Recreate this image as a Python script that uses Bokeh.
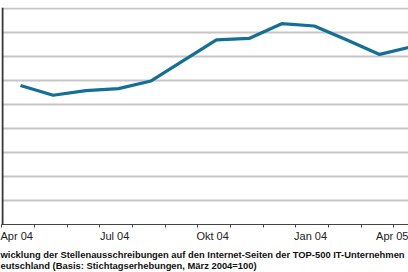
from bokeh.plotting import figure
from bokeh.models import FixedTicker, Span, Range1d, Title
from bokeh.embed import file_html
from bokeh.resources import INLINE

# Data (index, März 2004 = 100)
months = ["Apr 04", "Mai 04", "Jun 04", "Jul 04", "Aug 04", "Sep 04", "Okt 04",
          "Nov 04", "Dez 04", "Jan 05", "Feb 05", "Mär 05", "Apr 05"]
values = [115.8, 107.7, 111.5, 113.2, 119.6, 136.7, 153.8, 155.0, 167.3, 165.4,
          153.8, 141.7, 148.3]
tick_labels = ["Apr 04", "Jul 04", "Okt 04", "Jan 04", "Apr 05"]
grid_values = [0, 20, 40, 60, 80, 100, 120, 140, 160, 180]
caption1 = "wicklung der Stellenausschreibungen auf den Internet-Seiten der TOP-500 IT-Unternehmen"
caption2 = "eutschland (Basis: Stichtagserhebungen, März 2004=100)"

x = list(range(len(months)))
PX = 32.65  # px per category (layout)

p = figure(width=408, height=272, output_backend="svg", toolbar_location=None,
           x_range=Range1d(-19 / PX, 388 / PX), y_range=Range1d(0, 180.8),
           y_axis_location=None, min_border_left=1, min_border_right=0,
           min_border_top=7, min_border_bottom=48)
p.outline_line_color = None
p.background_fill_color = "white"
p.border_fill_color = "white"

# grid
p.xgrid.visible = False
p.ygrid.ticker = FixedTicker(ticks=grid_values)
p.ygrid.grid_line_color = "#c6c6c6"
p.ygrid.grid_line_width = 2

# x axis: minor ticks between categories, labels every 3rd category
label_pos = [3 * k - 0.117 for k in range(5)]
p.xaxis.ticker = FixedTicker(ticks=label_pos,
                             minor_ticks=[k - 0.57 for k in range(14)])
p.xaxis.major_label_overrides = {pos: tick_labels[k] for k, pos in enumerate(label_pos)}
p.xaxis.major_tick_out = 0
p.xaxis.major_tick_in = 0
p.xaxis.minor_tick_out = 3
p.xaxis.minor_tick_in = 0
p.xaxis.minor_tick_line_color = "#444444"
p.xaxis.axis_line_color = "#444444"
p.xaxis.axis_line_width = 1
p.xaxis.major_label_text_font = "Liberation Sans"
p.xaxis.major_label_text_font_size = "11px"
p.xaxis.major_label_text_color = "#222222"
p.xaxis.major_label_standoff = 2

# left axis line
p.add_layout(Span(location=-19 / PX + 0.03, dimension="height",
                  line_color="#333333", line_width=2))

p.line(x, values, line_color="#146f97", line_width=3.2, line_join="round")

# caption (two lines below the axis)
p.add_layout(Title(text=caption1 + "\n" + caption2, align="left",
                   text_font="Liberation Sans", text_font_size="9.4px",
                   text_font_style="bold", text_line_height=1.0,
                   text_color="#111111", standoff=4, offset=-1), "below")

open("out.html", "w").write(file_html(p, INLINE))
